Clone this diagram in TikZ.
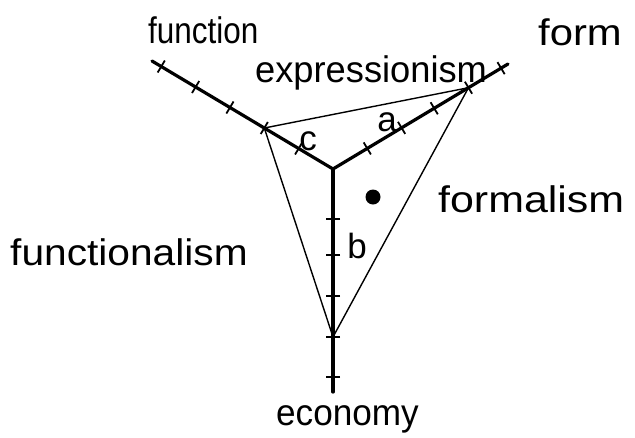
\documentclass[tikz,border=0pt]{standalone}
\usepackage{fontspec}
\setmainfont{Liberation Sans}
\usetikzlibrary{calc}
\begin{document}
\begin{tikzpicture}[x=1pt,y=-1pt,
  axis/.style={line width=3.2pt, line cap=round},
  tickmark/.style={line width=1.8pt},
  tri/.style={line width=1.4pt, line join=round},
  lab/.style={inner sep=0pt, font=\fontsize{37}{40}\selectfont},
  letter/.style={inner sep=0pt, font=\fontsize{35}{38}\selectfont}]
\useasboundingbox (0,0) rectangle (635,437);
% axes
\coordinate (O) at (333,169);
\coordinate (FE) at (152,61);
\coordinate (RE) at (508,64);
\coordinate (EE) at (333,392);
\draw[axis] (O) -- (FE);
\draw[axis] (O) -- (RE);
\draw[axis] (O) -- (EE);
% ticks
\foreach \n/\d in {1/40,2/80,3/120,4/160,5/200}
  \coordinate (f\n) at ($(O)!\d pt!(FE)$);
\foreach \n/\d in {1/40,2/80,3/118,4/158,5/196}
  \coordinate (r\n) at ($(O)!\d pt!(RE)$);
\foreach \n/\d in {1/50,2/86,3/127,4/168,5/208}
  \coordinate (e\n) at ($(O)!\d pt!(EE)$);
\foreach \n in {1,...,5}{
  \draw[tickmark] ($(f\n)!7pt!90:(FE)$) -- ($(f\n)!7pt!-90:(FE)$);
  \draw[tickmark] ($(r\n)!7pt!90:(RE)$) -- ($(r\n)!7pt!-90:(RE)$);
  \draw[tickmark] ($(e\n)!7pt!90:(EE)$) -- ($(e\n)!7pt!-90:(EE)$);
}
% triangle
\draw[tri] (f2) -- (r4) -- (e4) -- cycle;
% dot
\node[circle, fill, minimum size=15pt, inner sep=0pt] (dot) at (373,197) {};
% axis labels
\node[lab, anchor=base west] (function) at (148,43) {\scalebox{0.85}[1]{function}};
\node[lab, anchor=base west] (form) at (538,45) {\scalebox{1.13}[1]{form}};
\node[lab, anchor=base west] (economy) at (276,425) {\scalebox{0.95}[1]{economy}};
% region labels
\node[lab, anchor=base west] (expressionism) at (255,82) {\scalebox{0.98}[1]{expressionism}};
\node[lab, anchor=base west] (formalism) at (438,212) {\scalebox{1.16}[1]{formalism}};
\node[lab, anchor=base west] (functionalism) at (10,265) {\scalebox{1.1}[1]{functionalism}};
% segment letters
\node[letter] (a) at (387,122) {a};
\node[letter] (b) at (357,246) {b};
\node[letter] (c) at (308,141) {c};
\end{tikzpicture}
\end{document}
